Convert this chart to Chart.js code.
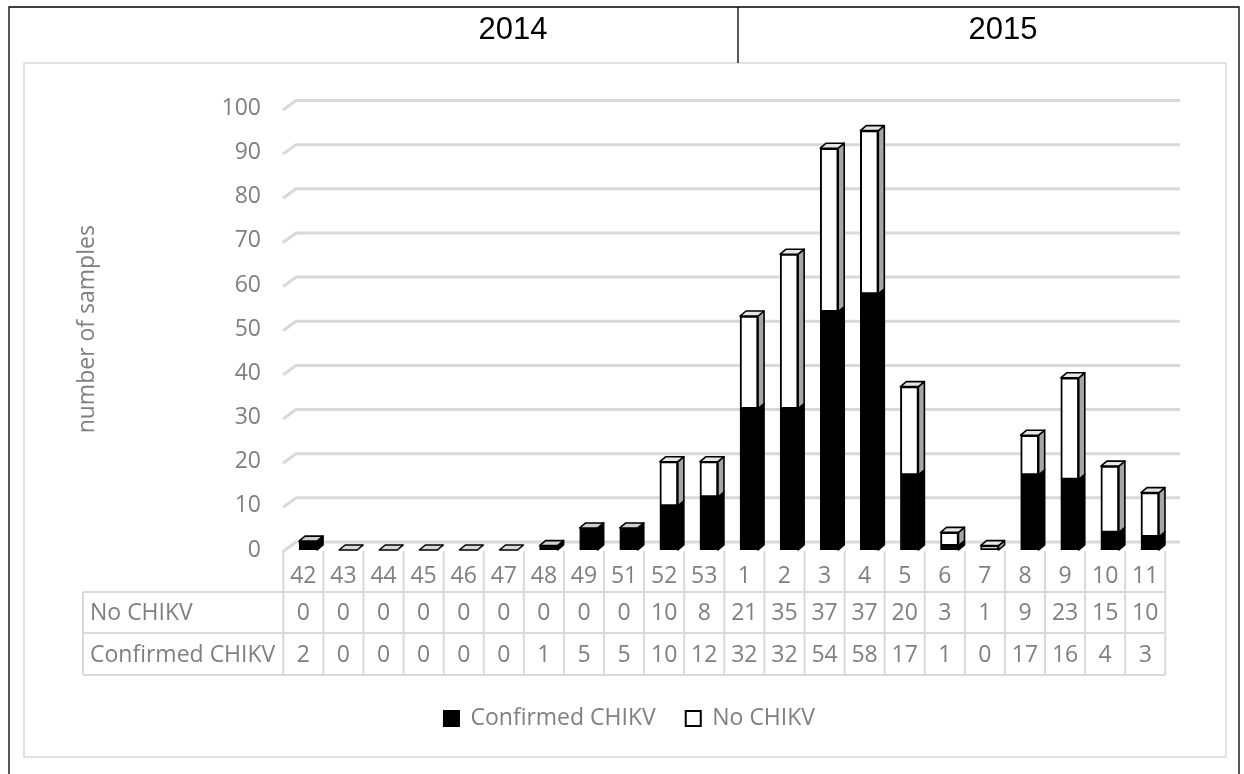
<!DOCTYPE html>
<html><head><meta charset="utf-8">
<script src="https://cdn.jsdelivr.net/npm/chart.js@4.4.1/dist/chart.umd.min.js"></script>
<style>html,body{margin:0;padding:0;background:#fff;}canvas{display:block}</style>
</head><body>
<canvas id="c" width="1244" height="774"></canvas>
<script>
const years = ['2014', '2015'];
const categories = ['42','43','44','45','46','47','48','49','51','52','53','1','2','3','4','5','6','7','8','9','10','11'];
const confirmed = [2,0,0,0,0,0,1,5,5,10,12,32,32,54,58,17,1,0,17,16,4,3];
const noChikv   = [0,0,0,0,0,0,0,0,0,10,8,21,35,37,37,20,3,1,9,23,15,10];
const seriesNames = ['Confirmed CHIKV', 'No CHIKV'];
const yAxisTitle = 'number of samples';

const GRAY = '#7f7f7f', GRID = '#d9d9d9';
const PAD_BOTTOM = 34, PAD_LEFT = 89, PAD_RIGHT = 74;
const FS = 23;
const FONT = '"Open Sans", sans-serif';
Chart.defaults.font.family = FONT;
Chart.defaults.font.size = FS;
Chart.defaults.color = GRAY;

function poly(ctx, pts, fill) {
  ctx.beginPath();
  ctx.moveTo(pts[0][0], pts[0][1]);
  for (let k = 1; k < pts.length; k++) ctx.lineTo(pts[k][0], pts[k][1]);
  ctx.closePath();
  ctx.fillStyle = fill; ctx.fill(); ctx.stroke();
}

const framePlugin = {
  id: 'frame',
  beforeDraw(chart) {
    const ctx = chart.ctx;
    ctx.save();
    ctx.fillStyle = '#fff'; ctx.fillRect(0, 0, chart.width, chart.height);
    ctx.strokeStyle = GRID; ctx.lineWidth = 1.5;
    ctx.strokeRect(24, 63, 1202, 694);
    ctx.strokeStyle = '#000'; ctx.lineWidth = 1.3;
    ctx.beginPath();
    ctx.moveTo(9, 774); ctx.lineTo(9, 7); ctx.lineTo(1239, 7); ctx.lineTo(1239, 774);
    ctx.moveTo(738, 7); ctx.lineTo(738, 63);
    ctx.stroke();
    ctx.fillStyle = '#000'; ctx.font = '31px "Liberation Sans", Arial, sans-serif';
    ctx.textAlign = 'center'; ctx.textBaseline = 'middle';
    ctx.fillText(years[0], 513, 30);
    ctx.fillText(years[1], 1003, 30);
    ctx.restore();
  },
  beforeDatasetsDraw(chart) {
    const ctx = chart.ctx, ys = chart.scales.y;
    ctx.save();
    ctx.strokeStyle = GRID; ctx.lineWidth = 3; ctx.lineJoin = 'round';
    ys.ticks.forEach(t => {
      const yy = ys.getPixelForValue(t.value);
      ctx.beginPath();
      ctx.moveTo(283, yy + 1.5);
      ctx.lineTo(296, yy - 8);
      ctx.lineTo(1180, yy - 8);
      ctx.stroke();
    });
    ctx.restore();
  },
  afterDatasetsDraw(chart) {
    const ctx = chart.ctx, ys = chart.scales.y;
    const m0 = chart.getDatasetMeta(0), m1 = chart.getDatasetMeta(1);
    const dx = 6, dy = 5;
    ctx.save();
    ctx.strokeStyle = '#000'; ctx.lineWidth = 1.6; ctx.lineJoin = 'round';
    categories.forEach((c, i) => {
      const segs = [
        { el: m0.data[i], v: confirmed[i], side: '#000', top: '#cfcfcf' },
        { el: m1.data[i], v: noChikv[i], side: '#a6a6a6', top: '#e6e6e6' }
      ];
      let topY = null, topFill = '#d9d9d9', x = 0, half = 9;
      segs.forEach(s => {
        const p = s.el.getProps(['x', 'y', 'base', 'width'], true);
        x = p.x; half = p.width / 2;
        if (s.v > 0) {
          const t = Math.min(p.y, p.base), b = Math.max(p.y, p.base);
          poly(ctx, [[x + half, t], [x + half + dx, t - dy], [x + half + dx, b - dy], [x + half, b]], s.side);
          topY = t; topFill = s.top;
        }
      });
      if (topY === null) topY = ys.getPixelForValue(0);
      poly(ctx, [[x - half, topY], [x - half + dx, topY - dy], [x + half + dx, topY - dy], [x + half, topY]], topFill);
    });
    ctx.restore();
  },
  afterDraw(chart) {
    const ctx = chart.ctx, xs = chart.scales.x, area = chart.chartArea;
    const colW = area.width / categories.length;
    const shift = -4.7;
    const left = area.left + shift, right = area.right + shift;
    const yTop = 551, r1 = 592, r2 = 633, r3 = 675, labelLeft = 83;
    ctx.save();
    ctx.strokeStyle = GRID; ctx.lineWidth = 2;
    ctx.beginPath();
    for (let k = 0; k <= categories.length; k++) {
      const xx = left + k * colW;
      ctx.moveTo(xx, yTop); ctx.lineTo(xx, r3);
    }
    [r1, r2, r3].forEach(yy => { ctx.moveTo(labelLeft, yy); ctx.lineTo(right, yy); });
    ctx.moveTo(labelLeft, r1); ctx.lineTo(labelLeft, r3);
    ctx.stroke();
    ctx.fillStyle = GRAY; ctx.font = FS + 'px ' + FONT; ctx.textBaseline = 'middle';
    ctx.textAlign = 'left';
    ctx.fillText(seriesNames[1], 90, (r1 + r2) / 2 + 1);
    ctx.fillText(seriesNames[0], 90, (r2 + r3) / 2 + 1);
    ctx.textAlign = 'center';
    categories.forEach((c, i) => {
      const cx = xs.getPixelForValue(i) + shift;
      ctx.fillText(c, cx, (yTop + r1) / 2 + 5);
      ctx.fillText(String(noChikv[i]), cx, (r1 + r2) / 2 + 1);
      ctx.fillText(String(confirmed[i]), cx, (r2 + r3) / 2 + 1);
    });
    ctx.restore();
  }
};

new Chart(document.getElementById('c'), {
  type: 'bar',
  data: {
    labels: categories,
    datasets: [
      { label: seriesNames[0], data: confirmed, backgroundColor: '#000', borderColor: '#000', borderWidth: 2, borderSkipped: false, barThickness: 18 },
      { label: seriesNames[1], data: noChikv, backgroundColor: '#fff', borderColor: '#000', borderWidth: 2, borderSkipped: false, barThickness: 18 }
    ]
  },
  options: {
    responsive: false,
    animation: false,
    devicePixelRatio: 1,
    layout: { padding: { left: PAD_LEFT, right: PAD_RIGHT, top: 108.5, bottom: PAD_BOTTOM } },
    plugins: {
      legend: {
        position: 'bottom',
        labels: { boxWidth: 15, boxHeight: 15, color: GRAY, font: { size: FS }, padding: 30 }
      },
      tooltip: { enabled: false }
    },
    scales: {
      x: {
        stacked: true,
        grid: { display: false, drawTicks: false },
        border: { display: false },
        ticks: { display: false },
        afterFit(s) { s.height = s.chart.height - PAD_BOTTOM - (s.chart.legend ? s.chart.legend.height : 0) - 550; }
      },
      y: {
        stacked: true, min: 0, max: 100,
        grid: { display: false, drawTicks: false },
        border: { display: false },
        ticks: { stepSize: 10, padding: 27, color: GRAY, font: { size: FS } },
        title: { display: true, text: yAxisTitle, color: GRAY, font: { size: FS }, padding: { top: -15, bottom: 0 } },
        afterFit(s) { s.width = 288 - PAD_LEFT; }
      }
    }
  },
  plugins: [framePlugin]
});
</script>
</body></html>
